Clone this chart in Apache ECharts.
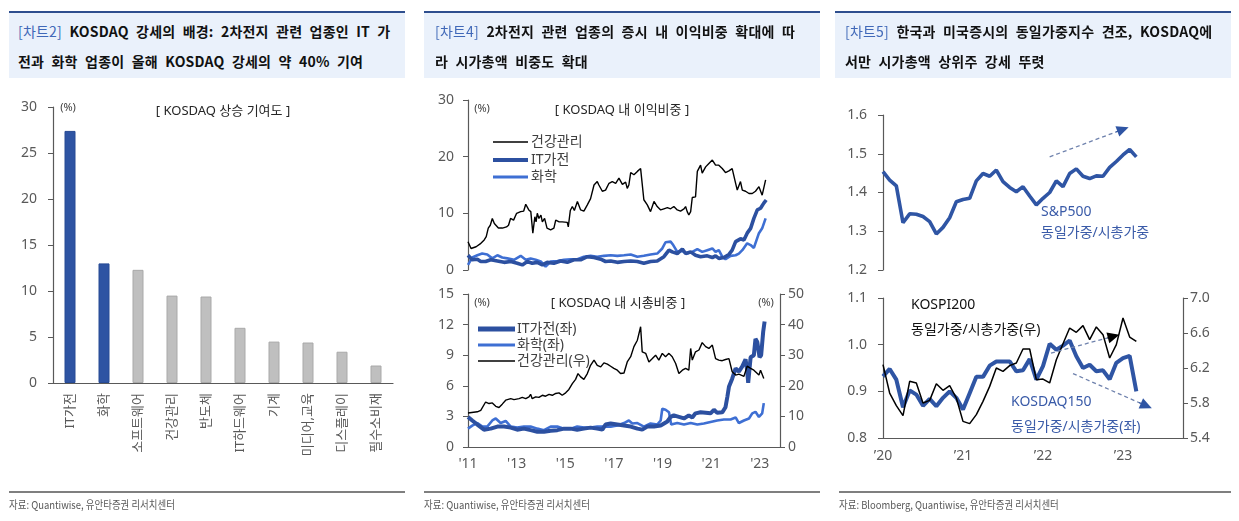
<!DOCTYPE html>
<html><head><meta charset="utf-8">
<script src="https://cdn.jsdelivr.net/npm/echarts@6/dist/echarts.min.js"></script>
<style>
html,body{margin:0;padding:0;background:#fff;}
#wrap{position:relative;width:1239px;height:521px;overflow:hidden;font-family:'Noto Sans CJK KR','Noto Sans',sans-serif;}
#chart{position:absolute;left:0;top:0;width:1239px;height:521px;}
.hdr{position:absolute;top:11px;height:67px;background:#EAF1FB;border-top:2px solid #2E4E8E;box-sizing:border-box;padding-top:3px;font-weight:bold;font-size:14px;color:#111;}
.hdr div{height:30px;line-height:30px;white-space:nowrap;word-spacing:4px;letter-spacing:0.2px;}
.tag{color:#4068B8;font-weight:normal;}
.rule{position:absolute;top:491px;height:2px;background:#7F7F7F;}
.src{position:absolute;top:497px;font-size:11px;line-height:14px;color:#595959;white-space:nowrap;transform:scaleX(0.86);transform-origin:0 0;}
</style></head>
<body>
<div id="wrap">
<div id="chart"></div>
<div class="hdr" style="left:9px;width:396px;padding-left:9px;">
  <div><span class="tag">[차트2]</span> KOSDAQ 강세의 배경: 2차전지 관련 업종인 IT 가</div>
  <div>전과 화학 업종이 올해 KOSDAQ 강세의 약 40% 기여</div>
</div>
<div class="hdr" style="left:424px;width:396px;padding-left:11px;">
  <div><span class="tag">[차트4]</span> 2차전지 관련 업종의 증시 내 이익비중 확대에 따</div>
  <div>라 시가총액 비중도 확대</div>
</div>
<div class="hdr" style="left:835px;width:396px;padding-left:10px;">
  <div><span class="tag">[차트5]</span> 한국과 미국증시의 동일가중지수 견조, KOSDAQ에</div>
  <div>서만 시가총액 상위주 강세 뚜렷</div>
</div>
<div class="rule" style="left:9px;width:396px;"></div>
<div class="rule" style="left:424px;width:396px;"></div>
<div class="rule" style="left:839px;width:392px;"></div>
<div class="src" style="left:9px;">자료: Quantiwise, 유안타증권 리서치센터</div>
<div class="src" style="left:424px;">자료: Quantiwise, 유안타증권 리서치센터</div>
<div class="src" style="left:839px;">자료: Bloomberg, Quantiwise, 유안타증권 리서치센터</div>
</div>
<script>
// ---------- Chart 2: KOSDAQ contribution (%) ----------
const barCats = ['IT가전','화학','소프트웨어','건강관리','반도체','IT하드웨어','기계','미디어,교육','디스플레이','필수소비재'];
const barVals = [27.4, 13.0, 12.3, 9.5, 9.4, 6.0, 4.5, 4.4, 3.4, 1.9];
const barHighlight = [true, true, false, false, false, false, false, false, false, false];

// ---------- Chart 4: x = months since Jan 2011 ----------
const midTickLabels = ["'11","'13","'15","'17","'19","'21","'23"];
// earnings share (%)
const earnHealth = [[0,5.0],[1.5,3.8],[4,4.1],[6,4.6],[8,5.3],[9,5.9],[10,7.4],[11,7.9],[12,9.1],[13,8.2],[15,7.4],[17,7.4],[19,7.6],[20,7.9],[21,9.1],[22.5,8.8],[24,10.0],[26,10.3],[27.5,10.4],[28.5,11.6],[30,10.6],[31,10.3],[32,6.5],[33,9.4],[33.6,8.5],[34.2,10.0],[35,9.1],[36,9.7],[36.7,8.5],[37.8,9.1],[39,7.4],[40.8,7.1],[42.4,7.4],[43.3,8.8],[45,8.5],[46.5,8.5],[49,8.4],[49.5,7.6],[50.5,10.5],[51.5,11.2],[52.5,10.5],[54,12.1],[55.6,10.6],[57.2,10.4],[58.9,11.5],[60.5,12.6],[62.2,15.0],[63.8,15.6],[64.6,15.0],[66.3,13.9],[67.9,14.1],[69.6,15.3],[71.2,15.6],[72.9,15.3],[74.5,16.2],[76.2,15.1],[77.8,15.5],[78.6,14.4],[79.4,15.0],[80.3,17.2],[81.9,16.8],[83.6,17.4],[85.2,17.9],[86,17.8],[86.8,12.4],[88.5,11.5],[90.1,10.3],[91.8,12.1],[93.4,11.2],[95.1,10.6],[96.7,10.8],[98.4,11.0],[100,10.8],[101.6,11.2],[103.3,10.6],[104.9,10.4],[106.6,10.8],[107.4,11.2],[108.2,10.3],[109,9.7],[109.9,10.3],[110.7,12.8],[112.3,12.9],[113.2,17.4],[114.8,18.5],[115.6,17.1],[117.3,18.2],[118.9,18.8],[120.6,19.4],[122.2,18.5],[123.8,18.5],[125.5,17.9],[127.1,17.2],[128.8,17.5],[130.4,17.9],[131.3,17.6],[132.1,15.3],[132.9,14.1],[134.5,15.6],[135.4,14.1],[137,13.9],[138.7,13.5],[140.3,13.5],[141.9,13.9],[143.6,14.7],[144.4,14.4],[145.2,13.2],[146,13.5],[146.9,15.9]];
const earnIT = [[0,2.6],[2,1.8],[4.6,1.9],[6.3,1.5],[8.7,1.5],[11.2,1.8],[14.5,1.6],[17.8,1.35],[21.1,1.5],[24.3,1.2],[26.8,0.9],[29.3,1.5],[31.7,1.2],[34.2,1.35],[36.7,0.9],[39.1,1.35],[42.4,1.2],[45.7,1.6],[49,1.35],[52.3,1.8],[55.6,1.8],[58.9,2.35],[62.2,2.2],[65.5,1.9],[67.9,1.5],[70.4,1.6],[73.7,1.35],[77,1.5],[80.3,1.6],[83.6,1.5],[86.8,1.2],[90.1,1.5],[93.4,1.6],[96.7,2.35],[99.2,3.5],[100.8,3.2],[103.3,2.9],[105.8,3.7],[107.4,2.9],[109.9,3.2],[112.3,2.6],[114.8,2.35],[118.1,2.5],[120.6,2.2],[122.2,2.5],[123.8,2.05],[126.3,2.2],[128.8,2.75],[130.4,3.5],[132.1,5.0],[134.5,5.5],[136.2,5.3],[137.8,6.5],[139.5,7.35],[141.1,9.1],[142.8,10.6],[144.4,10.9],[146,11.8],[147.2,12.35]];
const earnChem = [[0,0.9],[2.1,2.2],[4.6,2.6],[7,2.9],[9.5,2.75],[12,2.05],[14.5,2.6],[16.9,2.2],[19.4,2.05],[22.7,1.8],[26,2.5],[28.5,1.8],[30.9,2.05],[33.4,1.8],[35.9,1.5],[38.3,0.6],[40.8,1.5],[44.1,1.6],[47.4,1.8],[50.7,1.9],[54,1.9],[57.2,2.35],[60.5,2.5],[63.8,2.35],[67.1,2.5],[70.4,2.6],[73.7,2.5],[77,2.6],[80.3,2.75],[83.6,2.35],[86.8,2.5],[90.1,2.75],[93.4,2.9],[95.9,3.8],[97.5,4.9],[100,5.0],[101.3,4.4],[103.3,3.2],[105.8,3.35],[108.2,2.9],[110.7,3.2],[113.2,3.7],[115.6,3.2],[118.1,3.5],[120.6,3.8],[122.2,3.2],[123.8,3.5],[125.5,2.35],[127.1,1.9],[129.6,2.5],[132.1,2.6],[133.7,2.9],[135.4,3.5],[137.8,4.7],[139.5,4.4],[141.1,3.9],[143.6,6.5],[145.2,7.35],[146.9,9.1]];
// market-cap share (%)
const mcapIT = [[0,2.95],[2.1,2.6],[4.6,2.2],[7.9,1.7],[11.2,1.8],[14.5,2.0],[17.8,2.0],[21.1,1.9],[24.3,1.7],[27.6,1.8],[30.9,1.65],[34.2,1.5],[37.5,1.5],[40.8,1.6],[44.1,1.65],[47.4,1.8],[50.7,1.8],[53.9,1.7],[57.2,1.8],[60.5,1.9],[63.8,1.8],[66.3,1.7],[67.9,2.2],[70.4,2.3],[73.7,2.2],[77,2.1],[80.3,2.0],[83.6,1.8],[86,1.7],[88.5,2.0],[91.8,2.0],[95.1,2.1],[98.4,2.5],[100,2.95],[101.6,3.1],[104.1,2.95],[106.6,2.8],[109,3.1],[110.7,2.9],[112.3,3.3],[114.8,3.4],[117.3,3.35],[119.7,3.3],[121.4,3.65],[123,3.35],[125.5,3.4],[127.1,3.9],[128,4.9],[128.8,5.9],[130.4,6.7],[132.1,7.7],[133.7,7.4],[135.4,7.9],[137,8.6],[137.8,7.5],[138.3,6.3],[139.5,8.8],[141.1,9.0],[141.9,10.6],[142.8,10.3],[143.9,8.8],[144.7,9.0],[145.7,11.3],[146.4,12.3]];
const mcapChem = [[0,1.8],[2.1,2.1],[4.6,2.35],[7.1,2.0],[9.5,2.0],[12,2.6],[13.7,2.8],[16.1,2.35],[18.6,2.55],[21.1,2.0],[24.3,1.9],[27.6,2.0],[30.9,2.0],[34.2,1.8],[37.5,1.65],[40.8,2.0],[44.1,2.0],[47.4,1.8],[50.7,1.8],[53.9,2.0],[57.2,1.9],[60.5,1.9],[63.8,2.0],[67.1,2.0],[70.4,2.0],[73.7,2.1],[77,2.35],[79.4,2.6],[81.1,2.3],[83.6,2.35],[86.8,2.0],[90.1,2.3],[93.4,2.2],[95.1,2.6],[95.9,3.75],[97.5,3.65],[99.2,3.4],[100.3,2.2],[103.3,2.35],[106.6,2.2],[109.9,2.35],[113.2,2.2],[116.4,2.3],[119.7,2.45],[123,2.6],[126.3,2.7],[129.6,2.7],[132.1,2.9],[133.7,2.35],[136.2,2.6],[138.7,2.8],[140.3,3.3],[141.9,3.45],[143.6,2.95],[145.2,3.3],[146,4.3]];
const mcapHealth = [[0,11.1],[4.6,11.5],[6.3,12.0],[8.7,14.7],[10.4,14.2],[12,14.4],[13.7,13.3],[15.3,12.9],[16.9,14.0],[18.6,15.3],[21.1,15.8],[22.7,15.5],[25.2,15.8],[26.8,16.2],[28.5,15.8],[30.1,16.4],[30.9,17.2],[31.7,15.8],[33.4,16.4],[35,16.2],[36.7,16.9],[38.3,16.6],[40,17.2],[41.6,16.9],[43.3,17.5],[44.9,17.7],[46.5,16.9],[48.2,17.7],[49.8,18.8],[51.5,20.7],[53.1,22.1],[54.3,24.0],[55.6,22.9],[57.2,22.1],[58.9,24.0],[60.5,26.7],[62.2,28.4],[63.8,26.7],[65.5,26.2],[67.1,27.5],[68.8,27.1],[70.4,26.4],[72,25.7],[73.7,25.1],[75.3,24.0],[77,24.2],[78.6,27.8],[80.3,29.5],[81.9,32.8],[83.6,34.9],[85.2,39.3],[86,31.1],[87.7,30.6],[89.3,27.8],[91,28.9],[92.6,30.0],[94.2,28.4],[95.9,30.6],[97.5,29.5],[99.2,30.6],[100.8,29.5],[102.5,27.3],[104.1,24.0],[105.8,25.1],[107.4,25.7],[109,25.1],[109.9,32.2],[110.7,28.4],[112.3,31.1],[114,31.7],[115.6,34.1],[117.3,32.8],[118.9,32.2],[120.6,33.3],[122.2,28.9],[123.8,28.4],[125.5,28.2],[127.1,28.6],[128.8,28.9],[130.4,24.6],[132.1,23.5],[133.7,23.8],[136.2,23.1],[137.8,26.4],[139.5,25.7],[141.1,25.1],[143.6,23.5],[144.4,25.1],[146,22.4]];

// ---------- Chart 5: monthly, Jan 2020 .. Mar 2023 ----------
const rightTickLabels = ['’20','’21','’22','’23'];
const spxRatio = [1.454,1.432,1.417,1.322,1.345,1.344,1.338,1.325,1.293,1.310,1.335,1.376,1.382,1.385,1.430,1.449,1.442,1.458,1.428,1.413,1.402,1.415,1.391,1.368,1.385,1.400,1.430,1.415,1.449,1.461,1.442,1.436,1.443,1.442,1.465,1.480,1.497,1.511,1.492];
const kosdaq150Ratio = [0.932,0.948,0.925,0.866,0.902,0.893,0.869,0.884,0.868,0.886,0.900,0.886,0.861,0.896,0.931,0.931,0.955,0.964,0.964,0.964,0.943,0.945,0.969,0.925,0.954,1.002,0.989,0.998,1.009,0.975,0.950,0.957,0.943,0.945,0.926,0.961,0.971,0.976,0.900];
const kospi200Ratio = [6.238,5.914,5.770,5.655,6.048,6.029,5.800,5.830,6.021,5.945,5.998,5.857,5.590,5.564,5.667,5.819,5.990,6.200,6.162,6.227,6.257,6.417,6.417,6.067,6.074,6.029,6.295,6.478,6.657,6.608,6.684,6.524,6.669,6.581,6.314,6.467,6.771,6.554,6.505];
// trend arrows [month, value]
const spxArrow = [[25, 1.492], [36, 1.563]];
const kospiArrow = [[25.2, 0.982], [34.6, 1.018]];
const kosdaqArrow = [[28.5, 0.938], [39.5, 0.869]];

const FF = "'Noto Sans','Noto Sans CJK KR',sans-serif";
const AX = '#595959';
const C_IT = '#2C50A0', C_CHEM = '#3E6FD3', C_SPX = '#2F55A4';

function yAx(grid, min, max, interval, extra) {
  return Object.assign({
    type: 'value', gridIndex: grid, min: min, max: max, interval: interval,
    axisLine: {show: true, lineStyle: {color: AX, width: 1.2}},
    axisTick: {show: true, length: 5, lineStyle: {color: AX}},
    splitLine: {show: false},
    axisLabel: {fontSize: 14, color: AX, margin: 14, fontFamily: FF}
  }, extra || {});
}
function hiddenX(grid, max) {
  return {type: 'value', gridIndex: grid, min: 0, max: max, axisLine: {show: false}, axisTick: {show: false}, axisLabel: {show: false}, splitLine: {show: false}};
}
function arrowLines(pts, lineColor, headColor) {
  const a = pts[0], b = pts[1];
  const h = [a[0] + (b[0]-a[0])*0.9, a[1] + (b[1]-a[1])*0.9];
  return {
    silent: true, animation: false, label: {show: false},
    data: [
      [{coord: a, symbol: 'none', lineStyle: {color: lineColor, type: [4, 3], width: 1.3}}, {coord: b, symbol: 'none'}],
      [{coord: h, symbol: 'none', lineStyle: {color: headColor, width: 1, type: 'solid'}}, {coord: b, symbol: 'triangle', symbolSize: [11, 12], itemStyle: {color: headColor}}]
    ]
  };
}
function lineSeries(name, data, xi, yi, color, width, z, extra) {
  return Object.assign({name: name, type: 'line', xAxisIndex: xi, yAxisIndex: yi, data: data, symbol: 'none', showSymbol: false,
    lineStyle: {color: color, width: width}, itemStyle: {color: color}, z: z, silent: true}, extra || {});
}
const monthIdx = arr => arr.map((v, i) => [i, v]);

function txt(x, y, s, size, color, align) {
  return {type: 'text', x: x, y: y, silent: true, style: {text: s, fill: color, font: size + 'px ' + FF,
    align: align || 'left', verticalAlign: 'middle', textAlign: align || 'left', textVerticalAlign: 'middle'}};
}
function seg(x1, x2, y, color, w) {
  return {type: 'line', silent: true, shape: {x1: x1, y1: y, x2: x2, y2: y}, style: {stroke: color, lineWidth: w}};
}

const chart = echarts.init(document.getElementById('chart'), null, {renderer: 'canvas'});
chart.setOption({
  animation: false,
  textStyle: {fontFamily: FF},
  grid: [
    {left: 53, top: 107, width: 340, height: 276},
    {left: 468, top: 100, width: 312, height: 170},
    {left: 468, top: 294, width: 312, height: 153},
    {left: 883, top: 115, width: 300, height: 155},
    {left: 883, top: 298, width: 300, height: 140}
  ],
  xAxis: [
    {type: 'category', gridIndex: 0, data: barCats,
     axisLine: {show: true, lineStyle: {color: AX, width: 1.2}}, axisTick: {show: false},
     axisLabel: {rotate: 90, fontSize: 13, color: AX, margin: 10, interval: 0, fontFamily: FF}},
    hiddenX(1, 154),
    {type: 'value', gridIndex: 2, min: 0, max: 154, interval: 24,
     axisLine: {show: true, onZero: false, lineStyle: {color: AX, width: 1.2}}, axisTick: {show: false}, splitLine: {show: false},
     axisLabel: {fontSize: 14, color: AX, margin: 10, showMaxLabel: false, fontFamily: FF,
       formatter: v => (v % 24 === 0 ? midTickLabels[v / 24] || '' : '')}},
    hiddenX(3, 45),
    {type: 'value', gridIndex: 4, min: 0, max: 45, interval: 12,
     axisLine: {show: true, onZero: false, lineStyle: {color: AX, width: 1.2}}, axisTick: {show: false}, splitLine: {show: false},
     axisLabel: {fontSize: 14, color: AX, margin: 11, showMaxLabel: false, fontFamily: FF,
       formatter: v => (v % 12 === 0 ? rightTickLabels[v / 12] || '' : '')}}
  ],
  yAxis: [
    yAx(0, 0, 30, 5, {axisLabel: {fontSize: 14, color: AX, margin: 16, fontFamily: FF}}),
    yAx(1, 0, 30, 10),
    yAx(2, 0, 15, 3),
    yAx(2, 0, 50, 10, {position: 'right', axisLabel: {fontSize: 14, color: AX, margin: 8, fontFamily: FF}}),
    yAx(3, 1.2, 1.6, 0.1, {axisLabel: {fontSize: 14, color: AX, margin: 16, fontFamily: FF, formatter: v => v.toFixed(1)}}),
    yAx(4, 0.8, 1.1, 0.1, {axisLabel: {fontSize: 14, color: AX, margin: 16, fontFamily: FF, formatter: v => v.toFixed(1)}}),
    yAx(4, 5.4, 7.0, 0.4, {position: 'right', axisLabel: {fontSize: 14, color: AX, margin: 7, fontFamily: FF, formatter: v => v.toFixed(1)}})
  ],
  series: [
    {type: 'bar', xAxisIndex: 0, yAxisIndex: 0, barWidth: 11, silent: true,
     data: barVals.map((v, i) => ({value: v, itemStyle: {
       color: barHighlight[i] ? '#2E54A3' : '#BFBFBF',
       borderColor: barHighlight[i] ? '#264A94' : '#A9A9A9', borderWidth: 1}}))},
    lineSeries('화학', earnChem, 1, 1, C_CHEM, 2.6, 2),
    lineSeries('IT가전', earnIT, 1, 1, C_IT, 3.6, 3),
    lineSeries('건강관리', earnHealth, 1, 1, '#000', 1.4, 4),
    lineSeries('화학(좌)', mcapChem, 2, 2, C_CHEM, 2.6, 2),
    lineSeries('IT가전(좌)', mcapIT, 2, 2, C_IT, 4, 3),
    lineSeries('건강관리(우)', mcapHealth, 2, 3, '#000', 1.4, 4),
    lineSeries('S&P500', monthIdx(spxRatio), 3, 4, C_SPX, 3.6, 3, {markLine: arrowLines(spxArrow, '#6F82AD', C_SPX)}),
    lineSeries('KOSPI200', monthIdx(kospi200Ratio), 4, 6, '#000', 1.5, 4),
    lineSeries('KOSDAQ150', monthIdx(kosdaq150Ratio), 4, 5, C_SPX, 4, 3,
      {markLine: (function () {
        const k = arrowLines(kospiArrow, '#6F82AD', '#000');
        const q = arrowLines(kosdaqArrow, '#6F82AD', C_SPX);
        k.data = k.data.concat(q.data); return k; })()})
  ],
  graphic: [
    txt(68, 108, '(%)', 11, '#404040', 'center'),
    txt(223, 111, '[ KOSDAQ 상승 기여도 ]', 13, '#262626', 'center'),
    txt(482, 109, '(%)', 11, '#404040', 'center'),
    txt(622, 110, '[ KOSDAQ 내 이익비중 ]', 13, '#262626', 'center'),
    seg(493, 528, 142, '#000', 1.5), txt(531, 142, '건강관리', 14, '#404040'),
    seg(493, 528, 160, C_IT, 4), txt(531, 160, 'IT가전', 14, '#404040'),
    seg(493, 528, 177, C_CHEM, 3), txt(531, 177, '화학', 14, '#404040'),
    txt(482, 303, '(%)', 11, '#404040', 'center'),
    txt(766, 303, '(%)', 11, '#404040', 'center'),
    txt(618, 303, '[ KOSDAQ 내 시총비중 ]', 13, '#262626', 'center'),
    seg(478, 515, 329, C_IT, 5), txt(517, 329, 'IT가전(좌)', 14, '#404040'),
    seg(478, 515, 345, C_CHEM, 3), txt(517, 345, '화학(좌)', 14, '#404040'),
    seg(478, 515, 361, '#000', 1.5), txt(517, 361, '건강관리(우)', 14, '#404040'),
    txt(1041, 212, 'S&P500', 14, '#3A5BA8'),
    txt(1041, 233, '동일가중/시총가중', 14, '#3A5BA8'),
    txt(911, 305, 'KOSPI200', 14, '#111'),
    txt(911, 330, '동일가중/시총가중(우)', 14, '#111'),
    txt(1011, 402, 'KOSDAQ150', 14, '#3A5BA8'),
    txt(1011, 427, '동일가중/시총가중(좌)', 14, '#3A5BA8')
  ]
});
</script>
</body></html>
